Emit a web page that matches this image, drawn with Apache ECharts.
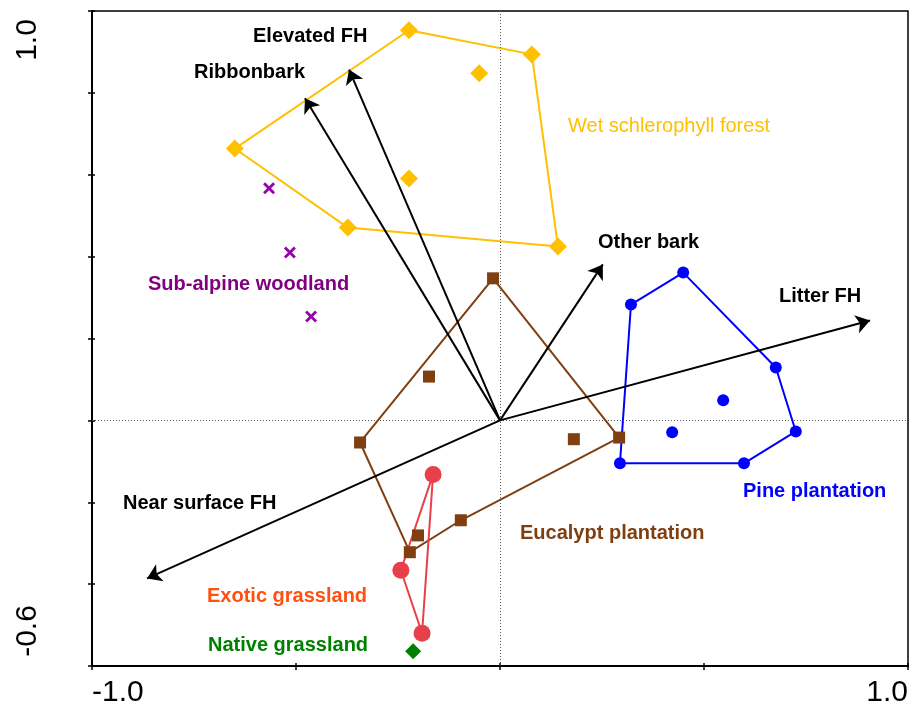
<!DOCTYPE html>
<html>
<head>
<meta charset="utf-8">
<script src="https://cdn.jsdelivr.net/npm/echarts@6/dist/echarts.min.js"></script>
<style>
html,body{margin:0;padding:0;background:#fff;}
#chart{width:911px;height:711px;}
</style>
</head>
<body>
<div id="chart"></div>
<script>
// ---- data ----
const xTickLabels = ['-1.0', '1.0'];
const yTickLabels = ['-0.6', '1.0'];

const wetHull = [[-0.223,0.953],[0.078,0.894],[0.142,0.425],[-0.373,0.471],[-0.650,0.664]];
const wetInner = [[-0.051,0.848],[-0.223,0.591]];
const subAlpine = [[-0.566,0.567],[-0.515,0.410],[-0.463,0.254]];
const eucHull = [[-0.017,0.347],[0.292,-0.042],[-0.096,-0.244],[-0.221,-0.322],[-0.343,-0.054]];
const eucInner = [[-0.174,0.107],[0.181,-0.046],[-0.201,-0.281]];
const exoticHull = [[-0.164,-0.132],[-0.243,-0.366],[-0.191,-0.520]];
const nativeGrass = [[-0.213,-0.564]];
const pineHull = [[0.449,0.361],[0.676,0.129],[0.725,-0.027],[0.598,-0.105],[0.294,-0.105],[0.321,0.283]];
const pineInner = [[0.547,0.049],[0.422,-0.029]];

const vectorNames = ['Elevated FH','Ribbonbark','Other bark','Litter FH','Near surface FH'];
const vectorTips = [[-0.370,0.857],[-0.478,0.787],[0.252,0.381],[0.907,0.244],[-0.865,-0.386]];

// ---- chart ----
const FONT = 'Arial, "Liberation Sans", sans-serif';
const chart = echarts.init(document.getElementById('chart'));

function closed(h){ return h.concat([h[0]]); }
function hullLine(h, color){
  return {type:'line', data: closed(h), symbol:'none', silent:true, z:2,
          lineStyle:{color:color, width:2}};
}
function pts(d, symbol, size, color){
  return {type:'scatter', data:d, symbol:symbol, symbolSize:size, z:4,
          itemStyle:{color:color, opacity:1}};
}
const xPath = 'path://M0,2 L2,0 L6,4 L10,0 L12,2 L8,6 L12,10 L10,12 L6,8 L2,12 L0,10 L4,6 Z';

const ORANGE = '#FFC000', BROWN = '#7F3F10', BLUE = '#0000FF', RED = '#E8404A',
      PURPLE = '#9900B0', GREEN = '#008000';

const axisCommon = {
  type:'value', splitLine:{show:false}
};

const option = {
  animation:false,
  backgroundColor:'#fff',
  grid:{left:92, right:3, top:11, bottom:45, show:true, borderColor:'#000', borderWidth:1.5, containLabel:false},
  xAxis:[
    Object.assign({}, axisCommon, {
      min:-1, max:1, interval:0.5, position:'bottom',
      axisLine:{onZero:false, lineStyle:{color:'#000', width:2}},
      axisTick:{inside:false, length:4, lineStyle:{color:'#000', width:1.5}},
      axisLabel:{fontSize:30, fontFamily:FONT, color:'#000', margin:12,
        alignMinLabel:'left', alignMaxLabel:'right',
        formatter:function(v){ if(Math.abs(v+1)<1e-6) return xTickLabels[0]; if(Math.abs(v-1)<1e-6) return xTickLabels[1]; return ''; }}
    }),
    Object.assign({}, axisCommon, {
      min:-1, max:1, interval:0.5, position:'bottom',
      axisLine:{show:false, onZero:false},
      axisTick:{inside:true, length:3, lineStyle:{color:'#000', width:1.5}},
      axisLabel:{show:false}
    })
  ],
  yAxis:[
    Object.assign({}, axisCommon, {
      min:-0.6, max:1, interval:0.2, position:'left',
      axisLine:{onZero:false, lineStyle:{color:'#000', width:2}},
      axisTick:{inside:false, length:4, lineStyle:{color:'#000', width:1.5}},
      axisLabel:{show:false}
    }),
    Object.assign({}, axisCommon, {
      min:-0.6, max:1, interval:0.2, position:'left',
      axisLine:{show:false, onZero:false},
      axisTick:{inside:true, length:3, lineStyle:{color:'#000', width:1.5}},
      axisLabel:{show:false}
    })
  ],
  series:[
    // reference dotted lines
    {type:'line', data:[], markLine:{silent:true, symbol:['none','none'], label:{show:false},
      lineStyle:{color:'#555', type:[1,2], width:1},
      data:[{xAxis:0},{yAxis:0}]}},
    hullLine(wetHull, ORANGE),
    hullLine(eucHull, BROWN),
    hullLine(exoticHull, RED),
    hullLine(pineHull, BLUE),
    {type:'lines', coordinateSystem:'cartesian2d', z:6, silent:true,
      symbol:['none','arrow'], symbolSize:[0,14],
      lineStyle:{color:'#000', width:2, opacity:1},
      data: vectorTips.map((t,i)=>({name:vectorNames[i], coords:[[0,0], t]}))},
    pts(wetHull.concat(wetInner), 'diamond', 18, ORANGE),
    pts(subAlpine, xPath, 12, PURPLE),
    pts(eucHull.concat(eucInner), 'rect', 12, BROWN),
    pts(exoticHull, 'circle', 17, RED),
    pts(nativeGrass, 'diamond', 16, GREEN),
    pts(pineHull.concat(pineInner), 'circle', 12, BLUE)
  ]
};
chart.setOption(option);

// annotations
function label(text, x, y, color, bold){
  return {type:'text', x:x, y:y, z:100, style:{text:text, fill:color, font:(bold?'bold ':'')+'20px '+FONT, textVerticalAlign:'middle', textAlign:'left'}};
}
const graphics = [
  label(vectorNames[0], 253, 36, '#000', true),
  label(vectorNames[1], 194, 72, '#000', true),
  label(vectorNames[2], 598, 242, '#000', true),
  label(vectorNames[3], 779, 296, '#000', true),
  label(vectorNames[4], 123, 503, '#000', true),
  label('Wet schlerophyll forest', 568, 126, ORANGE, false),
  label('Sub-alpine woodland', 148, 284, '#800080', true),
  label('Pine plantation', 743, 491, BLUE, true),
  label('Eucalypt plantation', 520, 533, BROWN, true),
  label('Exotic grassland', 207, 596, '#FF5010', true),
  label('Native grassland', 208, 645, GREEN, true)
];
const yTop = chart.convertToPixel({gridIndex:0}, [-1, 1]);
const yBot = chart.convertToPixel({gridIndex:0}, [-1, -0.6]);
graphics.push({type:'text', x:28, y:yTop[1]+29, rotation:Math.PI/2, z:100,
  style:{text:yTickLabels[1], fill:'#000', font:'30px '+FONT, textAlign:'center', textVerticalAlign:'middle'}});
graphics.push({type:'text', x:28, y:yBot[1]-35, rotation:Math.PI/2, z:100,
  style:{text:yTickLabels[0], fill:'#000', font:'30px '+FONT, textAlign:'center', textVerticalAlign:'middle'}});
chart.setOption({graphic:graphics});
</script>
</body>
</html>
